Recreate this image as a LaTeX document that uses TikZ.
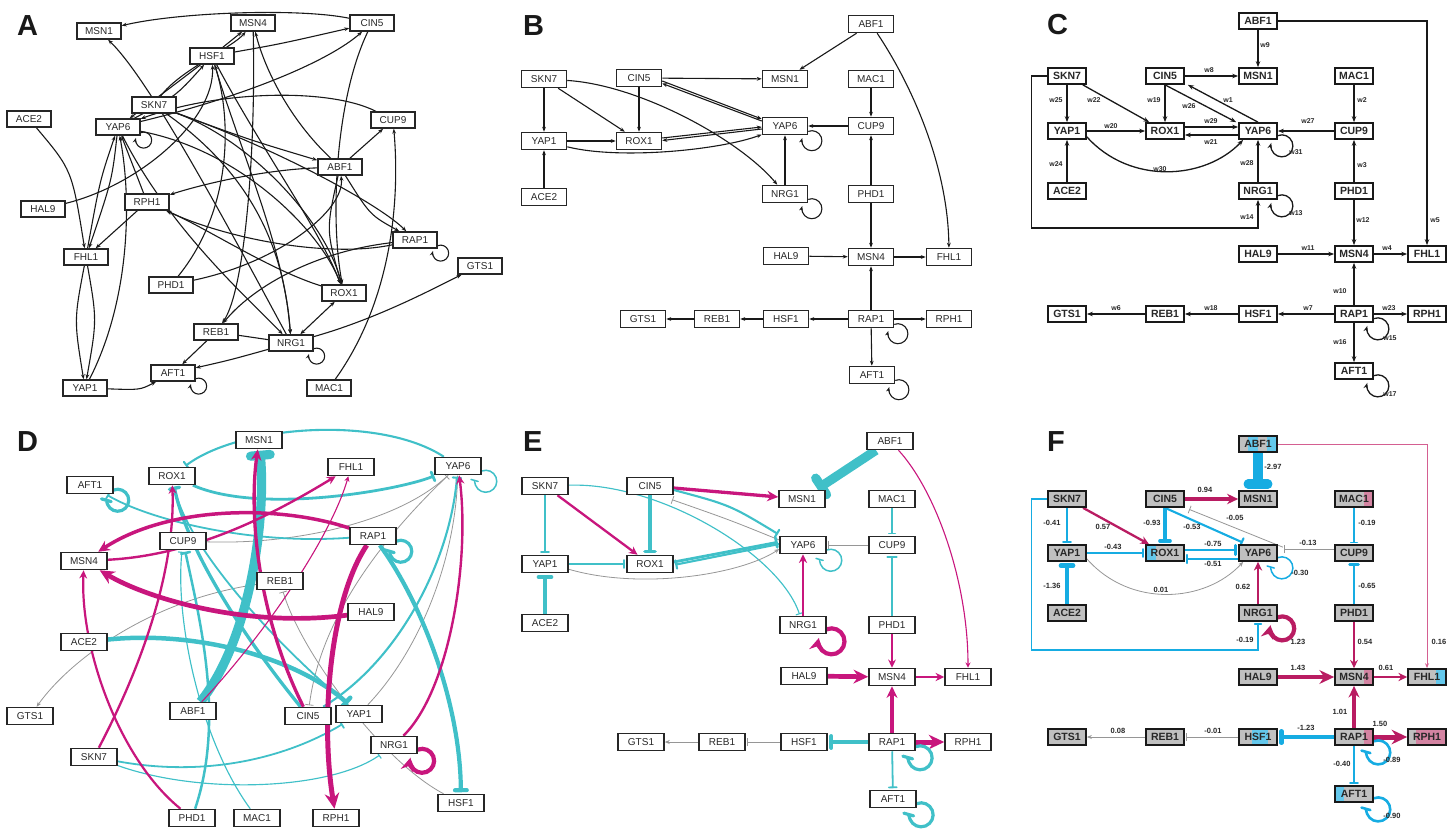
\documentclass[tikz,border=0pt]{standalone}
\usepackage{fontspec}
\setmainfont{Liberation Sans}
\usetikzlibrary{arrows.meta,calc}
\pgfdeclarelayer{bg}
\pgfsetlayers{bg,main}
\definecolor{mag}{RGB}{200,22,125}
\definecolor{cy}{RGB}{64,192,200}
\definecolor{gry}{RGB}{150,150,150}
\definecolor{fmag}{RGB}{185,28,98}
\definecolor{fpk}{RGB}{212,95,145}
\definecolor{fcy}{RGB}{22,172,226}
\definecolor{fgrey}{RGB}{192,192,192}
\definecolor{scy}{RGB}{100,200,236}
\definecolor{spk}{RGB}{212,132,162}
\definecolor{txt}{RGB}{40,40,40}
\newcommand\sloop[3][]{\draw[#1] ($(#2.south east)+(0,{-0.385*#3})$) arc[start angle=248.6, end angle=555.8, radius=#3];}
\newcommand\stp[3]{\fill[#1] ($(path picture bounding box.south west)!#2!(path picture bounding box.south east)$) rectangle ($(path picture bounding box.north west)!#3!(path picture bounding box.north east)$);}
\tikzset{
 nA/.style={draw=black!85, fill=white, line width=1.5pt, minimum width=44pt, minimum height=16pt, inner sep=0pt, font=\fontsize{10}{12}\selectfont, text=txt},
 nB/.style={nA, minimum width=45pt, minimum height=17pt},
 nD/.style={nA, minimum width=46pt, minimum height=17pt},
 nC/.style={draw=black!90, fill=white, line width=1.7pt, minimum width=38pt, minimum height=16pt, inner sep=0pt, font=\bfseries\fontsize{10.5}{12}\selectfont, text=txt},
 nF/.style={nC, fill=fgrey},
 plab/.style={inner sep=0pt, anchor=north west, font=\bfseries\fontsize{29}{30}\selectfont, text=black!90},
 wl/.style={inner sep=0pt, font=\bfseries\fontsize{7}{8}\selectfont, text=txt},
 fl/.style={inner sep=0pt, font=\bfseries\fontsize{7.5}{8}\selectfont, text=txt},
 ka/.style={draw=black!90, line width=1.1pt, -{Stealth[length=5pt,width=3.8pt]}},
 kab/.style={draw=black!90, line width=1.1pt, {Stealth[length=5pt,width=3.8pt]}-{Stealth[length=5pt,width=3.8pt]}},
 kc/.style={draw=black!90, line width=1.3pt, -{Stealth[length=6pt,width=4.5pt]}},
 ma/.style={draw=mag, line width=#1, -{Stealth[length=2.5pt 2.6, width=2.5pt 2.4]}},
 ci/.style={draw=cy, line width=#1, -{Bar[width=5pt 1.6, round]}, shorten >=1.5pt},
 ga/.style={draw=gry, line width=0.8pt, -{Stealth[length=5pt,width=4pt]}},
 gi/.style={draw=gry, line width=0.8pt, -{Bar[width=8pt]}, shorten >=1.5pt},
 fma/.style={draw=fmag, line width=#1, -{Stealth[length=2.5pt 2.6, width=2.5pt 2.4]}},
 fci/.style={draw=fcy, line width=#1, -{Bar[width=5pt 1.6, round]}, shorten >=1.5pt},
 fpa/.style={draw=fpk, line width=1pt, -{Stealth[length=5pt,width=4pt]}},
 fga/.style={draw=gry, line width=0.8pt, -{Stealth[length=5pt,width=4pt]}},
 fgi/.style={draw=gry, line width=0.8pt, -{Bar[width=8pt]}, shorten >=1.5pt},
}
\begin{document}
\begin{tikzpicture}[x=1pt,y=-1pt]
\useasboundingbox (0,0) rectangle (1453,829);
% ---------------- panel letters
\node[plab] (labA) at (17,15) {A};
\node[plab] (labB) at (523,15) {B};
\node[plab] (labC) at (1047,14) {C};
\node[plab] (labD) at (17,431) {D};
\node[plab] (labE) at (523,431) {E};
\node[plab] (labF) at (1047,431) {F};
% ---------------- panel A
\node[nA] (aMSN1) at (99,31) {MSN1};
\node[nA] (aMSN4) at (253,23) {MSN4};
\node[nA] (aCIN5) at (372,23) {CIN5};
\node[nA] (aHSF1) at (212,56) {HSF1};
\node[nA] (aSKN7) at (154,105) {SKN7};
\node[nA] (aYAP6) at (118,127) {YAP6};
\node[nA] (aACE2) at (29,119) {ACE2};
\node[nA] (aCUP9) at (393,120) {CUP9};
\node[nA] (aABF1) at (340,167) {ABF1};
\node[nA] (aHAL9) at (43,209) {HAL9};
\node[nA] (aRPH1) at (147,202) {RPH1};
\node[nA] (aFHL1) at (86,257) {FHL1};
\node[nA] (aRAP1) at (415,240) {RAP1};
\node[nA] (aGTS1) at (480,266) {GTS1};
\node[nA] (aPHD1) at (171,285) {PHD1};
\node[nA] (aROX1) at (344,293) {ROX1};
\node[nA] (aREB1) at (216,332) {REB1};
\node[nA] (aNRG1) at (291,343) {NRG1};
\node[nA] (aAFT1) at (173,373) {AFT1};
\node[nA] (aYAP1) at (85,388) {YAP1};
\node[nA] (aMAC1) at (329,388) {MAC1};
\begin{pgfonlayer}{bg}
\draw[ka] (aCIN5) .. controls (300,8) and (180,12) .. (aMSN1);
\draw[ka] (aHSF1) .. controls (280,44) .. (aCIN5);
\draw[ka] (aYAP6) .. controls (250,95) and (330,60) .. (aCIN5);
\draw[ka] (aHSF1) -- (aMSN4);
\draw[ka] (aSKN7) .. controls (180,70) and (232,48) .. (aMSN4);
\draw[ka] (aABF1) .. controls (290,120) and (265,70) .. (aMSN4);
\draw[ka] (aMSN4) .. controls (256,150) and (245,290) .. (aREB1);
\draw[ka] (aHAL9) .. controls (140,185) and (215,120) .. (aHSF1);
\draw[ka] (aHSF1) .. controls (170,88) .. (aYAP6);
\draw[ka] (aYAP6) .. controls (176,96) .. (aHSF1);
\draw[ka] (aNRG1) .. controls (230,230) and (150,80) .. (aMSN1);
\draw[ka] (aCUP9) .. controls (330,88) and (220,90) .. (aYAP6);
\draw[ka] (aABF1) -- (aCUP9);
\draw[ka] (aMAC1) .. controls (392,300) and (400,200) .. (aCUP9);
\draw[ka] (aCIN5) .. controls (335,100) and (330,220) .. (aROX1);
\draw[ka] (aABF1) .. controls (326,230) .. (aROX1);
\draw[ka] (aYAP6) .. controls (240,150) and (320,230) .. (aROX1);
\draw[ka] (aSKN7) .. controls (250,140) and (325,220) .. (aROX1);
\draw[ka] (aROX1) .. controls (270,270) and (210,230) .. (aRPH1);
\draw[ka] (aRAP1) .. controls (330,258) and (230,240) .. (aRPH1);
\draw[ka] (aABF1) .. controls (260,170) and (200,185) .. (aRPH1);
\draw[ka] (aRPH1) -- (aFHL1);
\draw[ka] (aYAP6) .. controls (112,180) .. (aFHL1);
\draw[ka] (aFHL1) .. controls (100,180) .. (aYAP6);
\draw[ka] (aACE2) .. controls (72,170) .. (aFHL1);
\draw[ka] (aFHL1) .. controls (74,320) .. (aYAP1);
\draw[ka] (aFHL1) .. controls (97,320) .. (aYAP1);
\draw[ka] (aYAP1) .. controls (130,300) and (132,200) .. (aYAP6);
\draw[ka] (aRPH1) -- (aYAP6);
\draw[ka] (aPHD1) .. controls (232,210) and (232,120) .. (aHSF1);
\draw[ka] (aPHD1) .. controls (280,262) and (345,210) .. (aABF1);
\draw[ka] (aRAP1) .. controls (310,252) and (250,290) .. (aREB1);
\draw[draw=black!90, line width=1.1pt] (aREB1) -- (aNRG1);
\draw[ka] (aREB1) -- (aAFT1);
\draw[ka] (aNRG1) .. controls (230,360) .. (aAFT1);
\draw[ka] (aYAP1) .. controls (140,390) .. (aAFT1);
\draw[kab] (aNRG1) -- (aROX1);
\draw[ka] (aNRG1) .. controls (380,318) and (440,285) .. (aGTS1);
\draw[ka] (aSKN7) .. controls (260,180) and (285,260) .. (aNRG1);
\draw[ka] (aYAP6) .. controls (170,230) and (250,300) .. (aNRG1);
\draw[ka] (aHSF1) .. controls (240,150) and (285,250) .. (aNRG1);
\draw[ka] (aHSF1) .. controls (262,150) and (320,230) .. (aROX1);
\draw[ka] (aABF1) .. controls (370,215) .. (aRAP1);
\draw[ka] (aSKN7) .. controls (280,150) and (380,205) .. (aRAP1);
\draw[ka] (aSKN7) .. controls (250,140) .. (aABF1);
\sloop[ka]{aYAP6}{8}
\sloop[ka]{aRAP1}{8}
\sloop[ka]{aNRG1}{8}
\sloop[ka]{aAFT1}{8}
\end{pgfonlayer}
% ---------------- panel B
\node[nB] (bABF1) at (871,24) {ABF1};
\node[nB] (bSKN7) at (544,79) {SKN7};
\node[nB] (bCIN5) at (639,78) {CIN5};
\node[nB] (bMSN1) at (785,79) {MSN1};
\node[nB] (bMAC1) at (871,79) {MAC1};
\node[nB] (bYAP6) at (785,126) {YAP6};
\node[nB] (bCUP9) at (871,126) {CUP9};
\node[nB] (bYAP1) at (544,141) {YAP1};
\node[nB] (bROX1) at (639,141) {ROX1};
\node[nB] (bACE2) at (544,197) {ACE2};
\node[nB] (bNRG1) at (785,194) {NRG1};
\node[nB] (bPHD1) at (871,194) {PHD1};
\node[nB] (bHAL9) at (786,256) {HAL9};
\node[nB] (bMSN4) at (871,257) {MSN4};
\node[nB] (bFHL1) at (949,257) {FHL1};
\node[nB] (bGTS1) at (643,319) {GTS1};
\node[nB] (bREB1) at (717,319) {REB1};
\node[nB] (bHSF1) at (786,319) {HSF1};
\node[nB] (bRAP1) at (871,319) {RAP1};
\node[nB] (bRPH1) at (949,319) {RPH1};
\node[nB] (bAFT1) at (872,375) {AFT1};
\begin{pgfonlayer}{bg}
\draw[ka] (bABF1) -- (bMSN1);
\draw[ka] (bABF1) .. controls (915,90) and (948,170) .. (bFHL1);
\draw[ka] (bSKN7) -- (bYAP1);
\draw[ka] (bSKN7) -- (bROX1);
\draw[ka] (bSKN7) .. controls (640,85) and (740,140) .. (bNRG1);
\draw[ka] (bCIN5) -- (bMSN1);
\draw[ka] (bCIN5) -- (bROX1);
\draw[ka] ($(bCIN5.east)+(0,3)$) -- ($(bYAP6.west)+(0,-7)$);
\draw[ka] ($(bYAP6.west)+(0,-5)$) -- ($(bCIN5.east)+(0,5.5)$);
\draw[ka] ($(bROX1.east)+(0,-3)$) -- ($(bYAP6.west)+(0,1)$);
\draw[ka] ($(bYAP6.west)+(0,3)$) -- ($(bROX1.east)+(0,-0.5)$);
\draw[ka] (bYAP1) -- (bROX1);
\draw[ka] (bYAP1) .. controls (620,160) and (720,150) .. (bYAP6);
\draw[ka] (bCUP9) -- (bYAP6);
\draw[ka] (bMAC1) -- (bCUP9);
\draw[ka] (bNRG1) -- (bYAP6);
\draw[ka] (bACE2) -- (bYAP1);
\draw[ka] (bPHD1) -- (bCUP9);
\draw[ka] (bPHD1) -- (bMSN4);
\draw[ka] (bHAL9) -- (bMSN4);
\draw[ka] (bMSN4) -- (bFHL1);
\draw[ka] (bRAP1) -- (bMSN4);
\draw[ka] (bRAP1) -- (bHSF1);
\draw[ka] (bHSF1) -- (bREB1);
\draw[ka] (bREB1) -- (bGTS1);
\draw[ka] (bRAP1) -- (bRPH1);
\draw[ka] (bRAP1) -- (bAFT1);
\sloop[ka]{bYAP6}{10}
\sloop[ka]{bNRG1}{10}
\sloop[ka]{bRAP1}{10}
\sloop[ka]{bAFT1}{10}
\end{pgfonlayer}
% ---------------- panel C
\node[nC] (cABF1) at (1258,21) {ABF1};
\node[nC] (cSKN7) at (1067,76) {SKN7};
\node[nC] (cCIN5) at (1165,76) {CIN5};
\node[nC] (cMSN1) at (1258,76) {MSN1};
\node[nC] (cMAC1) at (1354,76) {MAC1};
\node[nC] (cYAP1) at (1067,131) {YAP1};
\node[nC] (cROX1) at (1165,131) {ROX1};
\node[nC] (cYAP6) at (1258,131) {YAP6};
\node[nC] (cCUP9) at (1354,131) {CUP9};
\node[nC] (cACE2) at (1067,191) {ACE2};
\node[nC] (cNRG1) at (1258,191) {NRG1};
\node[nC] (cPHD1) at (1354,191) {PHD1};
\node[nC] (cHAL9) at (1258,254) {HAL9};
\node[nC] (cMSN4) at (1354,254) {MSN4};
\node[nC] (cFHL1) at (1427,254) {FHL1};
\node[nC] (cGTS1) at (1067,314) {GTS1};
\node[nC] (cREB1) at (1165,314) {REB1};
\node[nC] (cHSF1) at (1258,314) {HSF1};
\node[nC] (cRAP1) at (1354,314) {RAP1};
\node[nC] (cRPH1) at (1427,314) {RPH1};
\node[nC] (cAFT1) at (1354,371) {AFT1};
\begin{pgfonlayer}{bg}
\draw[kc] (cABF1) -- (cMSN1);
\draw[kc] (cABF1) -| (cFHL1);
\draw[kc] (cSKN7) -- (cYAP1);
\draw[kc] (cSKN7) -- (cROX1);
\draw[kc] (cSKN7.west) -| ++(-16,152) -| (cNRG1.south);
\draw[kc] (cCIN5) -- (cMSN1);
\draw[kc] (cCIN5) -- (cROX1);
\draw[kc] (cCIN5.south) -- ($(cYAP6.north west)+(-2,0)$);
\draw[kc] (cYAP6.north) -- ($(cCIN5.south east)+(3,0)$);
\draw[kc] ($(cROX1.east)+(0,-4)$) -- ($(cYAP6.west)+(0,-4)$);
\draw[kc] ($(cYAP6.west)+(0,4)$) -- ($(cROX1.east)+(0,4)$);
\draw[kc] (cYAP1) -- (cROX1);
\draw[kc] ($(cYAP1.south east)+(0,-3)$) .. controls (1130,185) and (1205,180) .. ($(cYAP6.south west)+(5,0)$);
\draw[kc] (cCUP9) -- (cYAP6);
\draw[kc] (cMAC1) -- (cCUP9);
\draw[kc] (cNRG1) -- (cYAP6);
\draw[kc] (cACE2) -- (cYAP1);
\draw[kc] (cPHD1) -- (cCUP9);
\draw[kc] (cPHD1) -- (cMSN4);
\draw[kc] (cHAL9) -- (cMSN4);
\draw[kc] (cMSN4) -- (cFHL1);
\draw[kc] (cRAP1) -- (cMSN4);
\draw[kc] (cRAP1) -- (cHSF1);
\draw[kc] (cHSF1) -- (cREB1);
\draw[kc] (cREB1) -- (cGTS1);
\draw[kc] (cRAP1) -- (cRPH1);
\draw[kc] (cRAP1) -- (cAFT1);
\sloop[kc]{cYAP6}{11}
\sloop[kc]{cNRG1}{11}
\sloop[kc]{cRAP1}{11}
\sloop[kc]{cAFT1}{11}
\end{pgfonlayer}
\node[wl] (cw9) at (1265,45) {w9};
\node[wl] (cw8) at (1209,70) {w8};
\node[wl] (cw5) at (1435,220) {w5};
\node[wl] (cw25) at (1056,100) {w25};
\node[wl] (cw22) at (1094,100) {w22};
\node[wl] (cw19) at (1154,100) {w19};
\node[wl] (cw26) at (1189,106) {w26};
\node[wl] (cw1) at (1228,100) {w1};
\node[wl] (cw20) at (1111,126) {w20};
\node[wl] (cw29) at (1211,121) {w29};
\node[wl] (cw21) at (1211,142) {w21};
\node[wl] (cw27) at (1308,121) {w27};
\node[wl] (cw2) at (1362,100) {w2};
\node[wl] (cw31) at (1296,152) {w31};
\node[wl] (cw24) at (1056,164) {w24};
\node[wl] (cw30) at (1160,169) {w30};
\node[wl] (cw28) at (1247,163) {w28};
\node[wl] (cw3) at (1362,165) {w3};
\node[wl] (cw13) at (1296,213) {w13};
\node[wl] (cw14) at (1247,217) {w14};
\node[wl] (cw12) at (1363,220) {w12};
\node[wl] (cw11) at (1308,248) {w11};
\node[wl] (cw4) at (1387,248) {w4};
\node[wl] (cw10) at (1340,291) {w10};
\node[wl] (cw6) at (1116,308) {w6};
\node[wl] (cw18) at (1211,308) {w18};
\node[wl] (cw7) at (1308,308) {w7};
\node[wl] (cw23) at (1389,308) {w23};
\node[wl] (cw15) at (1390,338) {w15};
\node[wl] (cw16) at (1340,342) {w16};
\node[wl] (cw17) at (1390,394) {w17};
% ---------------- panel D
\node[nD] (dMSN1) at (259,440) {MSN1};
\node[nD] (dFHL1) at (351,467) {FHL1};
\node[nD] (dYAP6) at (458,466) {YAP6};
\node[nD] (dROX1) at (172,476) {ROX1};
\node[nD] (dAFT1) at (90,485) {AFT1};
\node[nD] (dRAP1) at (373,536) {RAP1};
\node[nD] (dCUP9) at (183,541) {CUP9};
\node[nD] (dMSN4) at (84,561) {MSN4};
\node[nD] (dREB1) at (280,581) {REB1};
\node[nD] (dHAL9) at (371,612) {HAL9};
\node[nD] (dACE2) at (84,642) {ACE2};
\node[nD] (dGTS1) at (30,716) {GTS1};
\node[nD] (dABF1) at (193,711) {ABF1};
\node[nD] (dCIN5) at (308,716) {CIN5};
\node[nD] (dYAP1) at (359,714) {YAP1};
\node[nD] (dNRG1) at (394,745) {NRG1};
\node[nD] (dSKN7) at (94,757) {SKN7};
\node[nD] (dHSF1) at (461,803) {HSF1};
\node[nD] (dPHD1) at (192,818) {PHD1};
\node[nD] (dMAC1) at (257,818) {MAC1};
\node[nD] (dRPH1) at (336,818) {RPH1};
\begin{pgfonlayer}{bg}
\draw[gi] (dYAP6) .. controls (380,540) and (320,620) .. (dCIN5);
\draw[gi] (dCUP9) .. controls (300,545) and (400,520) .. (dYAP6);
\draw[ga] (dYAP1) .. controls (420,650) and (455,560) .. (dYAP6);
\draw[gi] (dHSF1) .. controls (380,760) and (300,650) .. (dREB1);
\draw[ga] (dREB1) .. controls (150,600) and (70,660) .. (dGTS1);
\draw[ci=1.8pt] (dSKN7) .. controls (220,780) and (300,750) .. (dYAP1);
\draw[ci=3.3pt] (dCIN5) .. controls (230,620) and (185,540) .. (dROX1);
\draw[ci=2.1pt] (dCIN5) .. controls (400,660) and (450,560) .. (dYAP6);
\draw[ci=1.8pt] (dYAP1) .. controls (260,630) and (185,540) .. (dROX1);
\draw[ci=2.8pt] (dROX1) .. controls (260,515) and (400,490) .. (dYAP6);
\draw[ci=2.1pt] (dYAP6) .. controls (380,415) and (240,425) .. (dROX1);
\draw[ci=1.15pt] (dMAC1) .. controls (200,740) and (175,620) .. (dCUP9);
\sloop[ci=1.5pt]{dYAP6}{11}
\draw[ci=4.5pt] (dACE2) .. controls (200,630) and (300,660) .. (dYAP1);
\draw[ci=2.5pt] (dPHD1) .. controls (225,720) and (200,620) .. (dCUP9);
\draw[ci=1.15pt] (dSKN7) .. controls (200,795) and (330,790) .. (dNRG1);
\draw[ci=4.2pt] (dRAP1) .. controls (420,600) and (460,700) .. (dHSF1);
\sloop[ci=3.2pt]{dRAP1}{11}
\draw[ci=1.8pt] (dRAP1) .. controls (250,545) and (150,520) .. (dAFT1);
\sloop[ci=3.2pt]{dAFT1}{11}
\draw[ci=9.2pt] (dABF1) .. controls (250,640) and (266,520) .. (dMSN1);
\draw[ma=1.1pt] (dABF1) .. controls (260,640) and (330,540) .. (dFHL1);
\draw[ma=3.3pt] (dCIN5) .. controls (260,620) and (248,520) .. (dMSN1);
\draw[ma=2.3pt] (dSKN7) .. controls (150,650) and (175,560) .. (dROX1);
\draw[ma=2.4pt] (dNRG1) .. controls (450,690) and (470,560) .. (dYAP6);
\sloop[ma=4.2pt]{dNRG1}{12}
\draw[ma=2.2pt] (dPHD1) .. controls (120,760) and (80,650) .. (dMSN4);
\draw[ma=4.7pt] (dHAL9) .. controls (250,628) and (150,600) .. (dMSN4);
\draw[ma=2.4pt] (dMSN4) .. controls (200,555) and (280,510) .. (dFHL1);
\draw[ma=3.5pt] (dRAP1) .. controls (280,505) and (170,505) .. (dMSN4);
\draw[ma=5pt] (dRAP1) .. controls (330,600) and (320,720) .. (dRPH1);
\end{pgfonlayer}
% ---------------- panel E
\node[nD] (eABF1) at (890,441) {ABF1};
\node[nD] (eSKN7) at (545,486) {SKN7};
\node[nD] (eCIN5) at (650,486) {CIN5};
\node[nD] (eMSN1) at (802,499) {MSN1};
\node[nD] (eMAC1) at (892,499) {MAC1};
\node[nD] (eYAP6) at (803,545) {YAP6};
\node[nD] (eCUP9) at (892,545) {CUP9};
\node[nD] (eYAP1) at (545,564) {YAP1};
\node[nD] (eROX1) at (650,564) {ROX1};
\node[nD] (eACE2) at (545,623) {ACE2};
\node[nD] (eNRG1) at (803,625) {NRG1};
\node[nD] (ePHD1) at (892,625) {PHD1};
\node[nD] (eHAL9) at (804,676) {HAL9};
\node[nD] (eMSN4) at (892,677) {MSN4};
\node[nD] (eFHL1) at (968,677) {FHL1};
\node[nD] (eGTS1) at (641,742) {GTS1};
\node[nD] (eREB1) at (722,742) {REB1};
\node[nD] (eHSF1) at (804,742) {HSF1};
\node[nD] (eRAP1) at (892,742) {RAP1};
\node[nD] (eRPH1) at (968,742) {RPH1};
\node[nD] (eAFT1) at (893,799) {AFT1};
\begin{pgfonlayer}{bg}
\draw[ci=9.2pt] (eABF1) -- (eMSN1);
\draw[ma=1.1pt] (eABF1) .. controls (935,490) and (968,580) .. (eFHL1);
\draw[ci=1.8pt] (eSKN7) -- (eYAP1);
\draw[ma=2.3pt] (eSKN7) -- (eROX1);
\draw[ci=1.15pt] (eSKN7) .. controls (660,482) and (780,555) .. (eNRG1);
\draw[ma=3.3pt] (eCIN5) -- (eMSN1);
\draw[ci=3.3pt] (eCIN5) -- (eROX1);
\draw[ci=2.1pt] ($(eCIN5.east)+(0,4)$) .. controls (730,505) .. ($(eYAP6.north west)+(0,-1)$);
\draw[gi] ($(eYAP6.west)+(0,-5)$) .. controls (730,520) .. ($(eCIN5.south east)+(-3,4)$);
\draw[ci=1.8pt] (eYAP1) -- (eROX1);
\draw[ci=2.8pt] ($(eROX1.east)+(0,-2)$) -- ($(eYAP6.west)+(0,-3)$);
\draw[ci=2.1pt] ($(eYAP6.west)+(0,-1)$) -- ($(eROX1.east)+(0,1)$);
\draw[ga] ($(eYAP1.south east)+(0,-4)$) .. controls (640,590) and (740,575) .. ($(eYAP6.west)+(0,4)$);
\draw[gi] (eCUP9) -- (eYAP6);
\draw[ci=1.15pt] (eMAC1) -- (eCUP9);
\sloop[ci=1.5pt]{eYAP6}{11}
\draw[ci=4.5pt] (eACE2) -- (eYAP1);
\draw[ma=2.4pt] (eNRG1) -- (eYAP6);
\draw[ci=2.5pt] (ePHD1) -- (eCUP9);
\sloop[ma=4.2pt]{eNRG1}{13}
\draw[ma=2.2pt] (ePHD1) -- (eMSN4);
\draw[ma=4.7pt] (eHAL9) -- (eMSN4);
\draw[ma=2.4pt] (eMSN4) -- (eFHL1);
\draw[ma=3.5pt] (eRAP1) -- (eMSN4);
\draw[ci=4.2pt] (eRAP1) -- (eHSF1);
\draw[gi] (eHSF1) -- (eREB1);
\draw[ga] (eREB1) -- (eGTS1);
\draw[ma=5pt] (eRAP1) -- (eRPH1);
\sloop[ci=3.2pt]{eRAP1}{12}
\draw[ci=1.8pt] (eRAP1) -- (eAFT1);
\sloop[ci=3.2pt]{eAFT1}{12}
\end{pgfonlayer}
% ---------------- panel F
\node[nF, path picture={\stp{scy}{0.23}{0.49}\stp{scy}{0.74}{0.97}}] (fABF1) at (1258,444) {ABF1};
\node[nF] (fSKN7) at (1067,499) {SKN7};
\node[nF] (fCIN5) at (1165,499) {CIN5};
\node[nF] (fMSN1) at (1258,499) {MSN1};
\node[nF, path picture={\stp{spk}{0.76}{1}}] (fMAC1) at (1354,499) {MAC1};
\node[nF] (fYAP1) at (1067,553) {YAP1};
\node[nF, path picture={\stp{scy}{0}{0.26}}] (fROX1) at (1165,553) {ROX1};
\node[nF] (fYAP6) at (1258,553) {YAP6};
\node[nF] (fCUP9) at (1354,553) {CUP9};
\node[nF] (fACE2) at (1067,613) {ACE2};
\node[nF] (fNRG1) at (1258,613) {NRG1};
\node[nF] (fPHD1) at (1354,613) {PHD1};
\node[nF] (fHAL9) at (1258,677) {HAL9};
\node[nF, path picture={\stp{spk}{0.76}{1}}] (fMSN4) at (1354,677) {MSN4};
\node[nF, path picture={\stp{scy}{0.74}{1}}] (fFHL1) at (1427,677) {FHL1};
\node[nF] (fGTS1) at (1067,737) {GTS1};
\node[nF] (fREB1) at (1165,737) {REB1};
\node[nF, path picture={\stp{scy}{0.35}{0.75}}] (fHSF1) at (1258,737) {HSF1};
\node[nF, path picture={\stp{spk}{0.76}{1}}] (fRAP1) at (1354,737) {RAP1};
\node[nF, path picture={\stp{spk}{0.2}{1}}] (fRPH1) at (1427,737) {RPH1};
\node[nF, path picture={\stp{scy}{0}{0.24}}] (fAFT1) at (1354,794) {AFT1};
\begin{pgfonlayer}{bg}
\draw[fpa] (fABF1) -| (fFHL1);
\draw[fci=9.2pt] (fABF1) -- (fMSN1);
\draw[fma=3.3pt] (fCIN5) -- (fMSN1);
\draw[fci=1.8pt] (fSKN7) -- (fYAP1);
\draw[fma=2.3pt] (fSKN7) -- (fROX1);
\draw[fci=3.3pt] (fCIN5) -- (fROX1);
\draw[fci=2.1pt] (fCIN5.south) -- ($(fYAP6.north west)+(6,-1)$);
\draw[fgi] ($(fYAP6.north east)+(5,3)$) -- ($(fCIN5.south east)+(3,1)$);
\draw[fci=1.8pt] (fYAP1) -- (fROX1);
\draw[fci=2.8pt] ($(fROX1.east)+(0,-3)$) -- ($(fYAP6.west)+(0,-3)$);
\draw[fci=2.1pt] ($(fYAP6.west)+(0,6)$) -- ($(fROX1.east)+(0,6)$);
\draw[fgi] ($(fCUP9.west)+(0,-4)$) -- ($(fYAP6.east)+(5,-4)$);
\draw[fci=1.15pt] (fMAC1) -- (fCUP9);
\sloop[fci=1.5pt]{fYAP6}{11}
\draw[fci=4.5pt] (fACE2) -- (fYAP1);
\draw[fga] ($(fYAP1.south east)+(0,-3)$) .. controls (1130,608) and (1205,603) .. ($(fYAP6.south west)+(5,0)$);
\draw[fma=2.4pt] (fNRG1) -- (fYAP6);
\draw[fci=2.5pt] (fPHD1) -- (fCUP9);
\sloop[fma=4.2pt]{fNRG1}{12}
\draw[fci=1.15pt] (fSKN7.west) -| ++(-16,151) -| (fNRG1.south);
\draw[fma=2.2pt] (fPHD1) -- (fMSN4);
\draw[fma=4.7pt] (fHAL9) -- (fMSN4);
\draw[fma=2.4pt] (fMSN4) -- (fFHL1);
\draw[fma=3.5pt] (fRAP1) -- (fMSN4);
\draw[fma=5pt] (fRAP1) -- (fRPH1);
\draw[fci=4.2pt] (fRAP1) -- (fHSF1);
\draw[fgi] (fHSF1) -- (fREB1);
\draw[fga] (fREB1) -- (fGTS1);
\sloop[fci=2.6pt]{fRAP1}{12}
\draw[fci=1.8pt] (fRAP1) -- (fAFT1);
\sloop[fci=2.6pt]{fAFT1}{12}
\end{pgfonlayer}
\node[fl] (fw1) at (1273,467) {-2.97};
\node[fl] (fw2) at (1205,490) {0.94};
\node[fl] (fw3) at (1052,523) {-0.41};
\node[fl] (fw4) at (1103,527) {0.57};
\node[fl] (fw5) at (1152,523) {-0.93};
\node[fl] (fw6) at (1192,527) {-0.53};
\node[fl] (fw7) at (1235,518) {-0.05};
\node[fl] (fw8) at (1113,547) {-0.43};
\node[fl] (fw9) at (1213,544) {-0.75};
\node[fl] (fw10) at (1213,564) {-0.51};
\node[fl] (fw11) at (1308,543) {-0.13};
\node[fl] (fw12) at (1367,523) {-0.19};
\node[fl] (fw13) at (1300,573) {-0.30};
\node[fl] (fw14) at (1052,586) {-1.36};
\node[fl] (fw15) at (1161,590) {0.01};
\node[fl] (fw16) at (1243,587) {0.62};
\node[fl] (fw17) at (1367,586) {-0.65};
\node[fl] (fw18) at (1298,642) {1.23};
\node[fl] (fw19) at (1245,640) {-0.19};
\node[fl] (fw20) at (1365,642) {0.54};
\node[fl] (fw21) at (1439,642) {0.16};
\node[fl] (fw22) at (1298,668) {1.43};
\node[fl] (fw23) at (1386,668) {0.61};
\node[fl] (fw24) at (1340,712) {1.01};
\node[fl] (fw25) at (1380,724) {1.50};
\node[fl] (fw26) at (1306,728) {-1.23};
\node[fl] (fw27) at (1213,731) {-0.01};
\node[fl] (fw28) at (1118,731) {0.08};
\node[fl] (fw29) at (1392,760) {-0.89};
\node[fl] (fw30) at (1342,764) {-0.40};
\node[fl] (fw31) at (1392,816) {-0.90};
\end{tikzpicture}
\end{document}
